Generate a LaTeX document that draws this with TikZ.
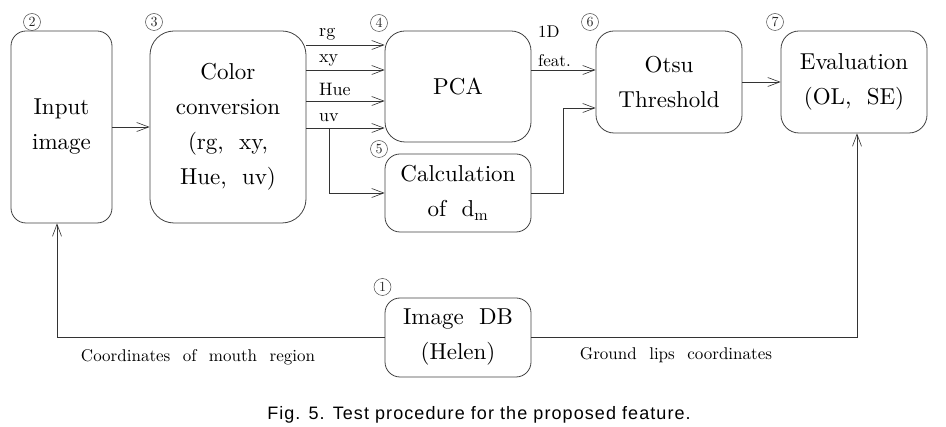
\documentclass[tikz,border=0pt]{standalone}
\usepackage{fontspec}
\setmainfont{lmroman10-regular.otf}
\newfontfamily\capfont{Liberation Sans}[LetterSpace=6]
\newfontfamily\lblfont{lmroman10-regular.otf}[WordSpace=2.2]
\usetikzlibrary{arrows.meta}
\begin{document}
\begin{tikzpicture}[x=1pt,y=-1pt,
  box/.style={draw=black!75, line width=0.8pt, align=center, inner sep=0pt,
    font=\fontsize{23}{35}\selectfont},
  conn/.style={draw=black!80, line width=0.8pt},
  arr/.style={conn, -{Straight Barb[length=12pt,width=9pt,line width=0.6pt]}},
  num/.style={circle, draw=black!70, line width=0.5pt, minimum size=17pt, inner sep=0pt,
    font=\fontsize{14}{14}\selectfont, text=black!85},
  small/.style={font=\fontsize{18}{18}\selectfont, inner sep=0pt, anchor=base west},
  tiny/.style={font=\fontsize{17}{17}\selectfont, inner sep=0pt, anchor=base west},
  bot/.style={font=\lblfont\fontsize{17}{17}\selectfont, inner sep=0pt, anchor=base}]
\useasboundingbox (0,0) rectangle (946,427);
% boxes
\node[box, rounded corners=15pt, minimum width=101pt, minimum height=192pt] (inp) at (61.5,127) {Input\\image};
\node[box, rounded corners=24pt, minimum width=156pt, minimum height=192pt] (col) at (228,127) {Color\\conversion\\(rg,\ \ xy,\\Hue,\ \ uv)};
\node[box, rounded corners=20pt, minimum width=146pt, minimum height=111pt] (pca) at (458,86.5) {PCA};
\node[box, rounded corners=15pt, minimum width=146pt, minimum height=78pt] (calc) at (458,193) {Calculation\\of\ \ d$_{\mathrm{m}}$};
\node[box, rounded corners=18pt, minimum width=146pt, minimum height=102pt] (otsu) at (669,82) {Otsu\\Threshold};
\node[box, rounded corners=18pt, minimum width=146pt, minimum height=102pt] (eval) at (854,82) {Evaluation\\(OL,\ \ SE)};
\node[box, rounded corners=15pt, minimum width=146pt, minimum height=79pt] (db) at (458,337.5) {Image\ \ DB\\(Helen)};
% numbers
\node[num] (n1) at (382.5,287) {1};
\node[num] (n2) at (32,22) {2};
\node[num] (n3) at (154,22) {3};
\node[num] (n4) at (379,23) {4};
\node[num] (n5) at (379,149) {5};
\node[num] (n6) at (590,22) {6};
\node[num] (n7) at (775,22) {7};
% level coordinates
\coordinate (yrg) at (0,45);
\coordinate (yxy) at (0,70);
\coordinate (yhue) at (0,101);
\coordinate (yuv) at (0,128);
\coordinate (ufork) at (329,128);
\coordinate (yfeat) at (0,70);
\coordinate (kturn) at (563,108);
\coordinate (yin) at (0,127);
% connectors
\draw[arr] (inp.east |- yin) -- (col.west |- yin);
\draw[arr] (col.east |- yrg) -- (pca.west |- yrg);
\draw[arr] (col.east |- yxy) -- (pca.west |- yxy);
\draw[arr] (col.east |- yhue) -- (pca.west |- yhue);
\draw[arr] (col.east |- yuv) -- (pca.west |- yuv);
\draw[arr] (ufork) |- (calc.west);
\draw[arr] (pca.east |- yfeat) -- (otsu.west |- yfeat);
\draw[arr] (calc.east) -| (kturn) -- (otsu.west |- kturn);
\draw[arr] (otsu) -- (eval);
\draw[arr] (db.west) -| ([xshift=-4.5pt]inp.south);
\draw[arr] (db.east) -| ([xshift=3pt]eval.south);
% small labels
\node[small] (lrg) at (319,37) {rg};
\node[small] (lxy) at (319,63) {xy};
\node[small] (lhue) at (319,96) {Hue};
\node[small] (luv) at (319,122) {uv};
\node[tiny] (l1d) at (538,38) {1D};
\node[tiny] (lfeat) at (538,67) {feat.};
\node[bot] (lcoord) at (198,362) {Coordinates of mouth region};
\node[bot] (lground) at (676,360) {Ground lips coordinates};
% caption
\node[font=\capfont\fontsize{18}{18}\selectfont, inner sep=0pt, anchor=base] (cap) at (479,420) {Fig. 5. Test procedure for the proposed feature.};
\end{tikzpicture}
\end{document}
